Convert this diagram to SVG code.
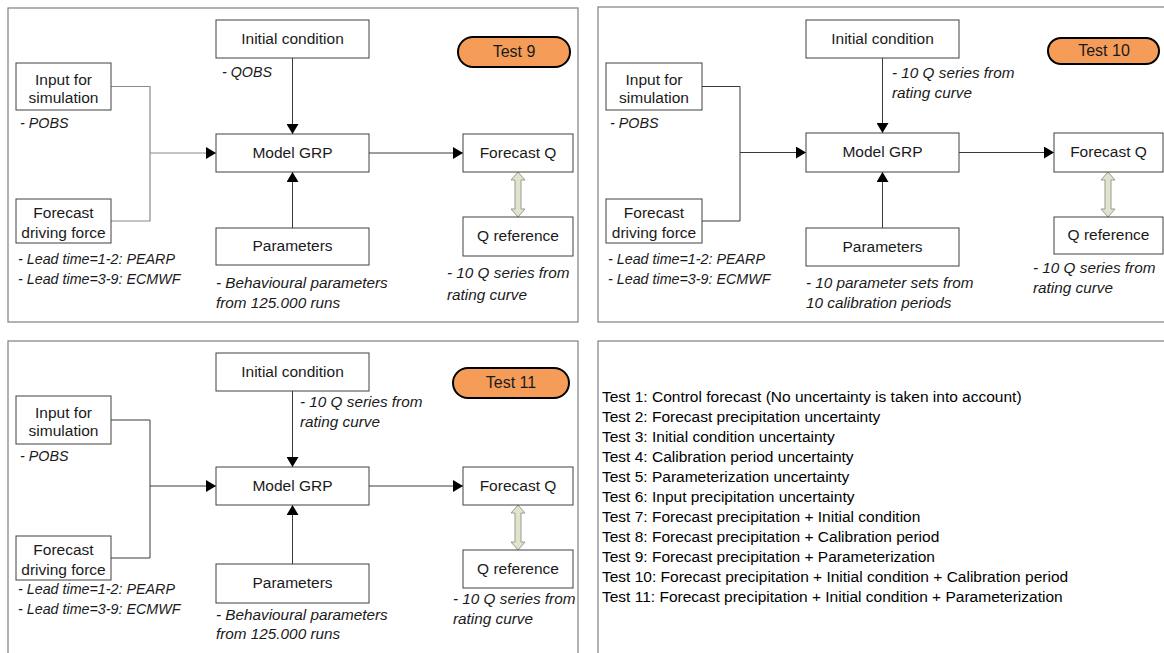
<svg xmlns="http://www.w3.org/2000/svg" width="1164" height="653" viewBox="0 0 1164 653">
<style>
.panel{fill:#fff;stroke:#7f7f7f;stroke-width:1.2}
.box{fill:#fff;stroke:#404040;stroke-width:1}
.t{font-family:"Liberation Sans",Arial,sans-serif;font-size:15.5px;fill:#1a1a1a;text-anchor:middle}
.n{font-family:"Liberation Sans",Arial,sans-serif;font-size:14.3px;font-style:italic;fill:#1a1a1a}
.w{font-size:15.3px}
.pill{fill:#f59d58;stroke:#000;stroke-width:2}
.ln{fill:none;stroke:#3a3a3a;stroke-width:1}
.br{fill:none;stroke:#8a8a8a;stroke-width:1.2}
.dbl{fill:#dfe3cf;stroke:#9a9c8c;stroke-width:1}
.lst{font-family:"Liberation Sans",Arial,sans-serif;font-size:15.5px;fill:#000}
</style>
<defs>
<marker id="ah" viewBox="0 0 10 12" refX="10" refY="6" markerWidth="10" markerHeight="12" markerUnits="userSpaceOnUse" orient="auto">
<path d="M0,0 L10,6 L0,12 Z" fill="#000"/>
</marker>
<path id="dblarrow" d="M0,0 L7,8 L3,8 L3,37 L7,37 L0,45 L-7,37 L-3,37 L-3,8 L-7,8 Z"/>
</defs>
<rect width="1164" height="653" fill="#fff"/>
<rect class="panel" x="8" y="8" width="570" height="314"/>
<rect class="panel" x="598" y="7" width="580" height="315"/>
<rect class="panel" x="8" y="341" width="570" height="320"/>
<rect class="panel" x="598" y="341" width="580" height="320"/>

<g id="connectors">
<path class="br" d="M111,86.5 H150 V221 H111"/>
<path class="br" d="M150,153 H216" marker-end="url(#ah)"/>
<path class="ln" d="M292.5,58 V134" marker-end="url(#ah)"/>
<path class="ln" d="M292.5,228 V172" marker-end="url(#ah)"/>
<path class="ln" d="M369,153 H463" marker-end="url(#ah)"/>
<use href="#dblarrow" class="dbl" x="518" y="172"/>

<path class="ln" d="M702,86.5 H740 V221 H702"/>
<path class="ln" d="M740,152.5 H806" marker-end="url(#ah)"/>
<path class="ln" d="M882.5,58 V133" marker-end="url(#ah)"/>
<path class="ln" d="M882.5,228 V172" marker-end="url(#ah)"/>
<path class="ln" d="M959,152.5 H1054" marker-end="url(#ah)"/>
<use href="#dblarrow" class="dbl" x="1108" y="172"/>

<path class="ln" d="M111,420 H150 V558 H111"/>
<path class="ln" d="M150,486 H216" marker-end="url(#ah)"/>
<path class="ln" d="M292.5,391 V467" marker-end="url(#ah)"/>
<path class="ln" d="M292.5,564 V505" marker-end="url(#ah)"/>
<path class="ln" d="M369,486 H463" marker-end="url(#ah)"/>
<use href="#dblarrow" class="dbl" x="518" y="505"/>
</g>

<!-- Panel Test 9 -->
<g id="p1-input"><rect class="box" x="16" y="63" width="95" height="47"/><text class="t" x="63.5" y="85">Input for</text><text class="t" x="63.5" y="103">simulation</text><text class="n" x="20" y="128">- POBS</text></g>
<g id="p1-forecast-driving"><rect class="box" x="16" y="199" width="95" height="44"/><text class="t" x="63.5" y="218">Forecast</text><text class="t" x="63.5" y="238">driving force</text><text class="n" x="18" y="264">- Lead time=1-2: PEARP</text><text class="n" x="18" y="284">- Lead time=3-9: ECMWF</text></g>
<g id="p1-initial"><rect class="box" x="216" y="20" width="153" height="38"/><text class="t" x="292.5" y="44">Initial condition</text><text class="n" x="222" y="77">- QOBS</text></g>
<g id="p1-model"><rect class="box" x="216" y="134" width="153" height="38"/><text class="t" x="292.5" y="158">Model GRP</text></g>
<g id="p1-params"><rect class="box" x="216" y="228" width="153" height="37"/><text class="t" x="292.5" y="251">Parameters</text><text class="n w" x="216" y="288">- Behavioural parameters</text><text class="n w" x="216" y="308">from 125.000 runs</text></g>
<g id="p1-forecastq"><rect class="box" x="463" y="134" width="110" height="38"/><text class="t" x="518" y="158">Forecast Q</text></g>
<g id="p1-qref"><rect class="box" x="463" y="217" width="110" height="39"/><text class="t" x="518" y="241">Q reference</text><text class="n w" x="447" y="278">- 10 Q series from</text><text class="n w" x="447" y="300">rating curve</text></g>
<g id="p1-label"><rect class="pill" x="458" y="37" width="112" height="30" rx="15"/><text class="t" x="514" y="57" style="font-size:16px">Test 9</text></g>

<!-- Panel Test 10 -->
<g id="p2-input"><rect class="box" x="606" y="63" width="96" height="47"/><text class="t" x="654" y="85">Input for</text><text class="t" x="654" y="103">simulation</text><text class="n" x="610" y="128">- POBS</text></g>
<g id="p2-forecast-driving"><rect class="box" x="606" y="199" width="96" height="44"/><text class="t" x="654" y="218">Forecast</text><text class="t" x="654" y="238">driving force</text><text class="n" x="608" y="264">- Lead time=1-2: PEARP</text><text class="n" x="608" y="284">- Lead time=3-9: ECMWF</text></g>
<g id="p2-initial"><rect class="box" x="806" y="20" width="153" height="38"/><text class="t" x="882.5" y="44">Initial condition</text><text class="n w" x="892" y="78">- 10 Q series from</text><text class="n w" x="892" y="98">rating curve</text></g>
<g id="p2-model"><rect class="box" x="806" y="133" width="153" height="39"/><text class="t" x="882.5" y="157">Model GRP</text></g>
<g id="p2-params"><rect class="box" x="806" y="228" width="153" height="38"/><text class="t" x="882.5" y="252">Parameters</text><text class="n w" x="806" y="288">- 10 parameter sets from</text><text class="n w" x="806" y="308">10 calibration periods</text></g>
<g id="p2-forecastq"><rect class="box" x="1054" y="133" width="109" height="39"/><text class="t" x="1108.5" y="157">Forecast Q</text></g>
<g id="p2-qref"><rect class="box" x="1054" y="217" width="109" height="37"/><text class="t" x="1108.5" y="240">Q reference</text><text class="n w" x="1033" y="273">- 10 Q series from</text><text class="n w" x="1033" y="293">rating curve</text></g>
<g id="p2-label"><rect class="pill" x="1048" y="38" width="111" height="26" rx="13"/><text class="t" x="1104" y="56" style="font-size:16px">Test 10</text></g>

<!-- Panel Test 11 -->
<g id="p3-input"><rect class="box" x="16" y="396" width="95" height="48"/><text class="t" x="63.5" y="418">Input for</text><text class="t" x="63.5" y="436">simulation</text><text class="n" x="20" y="461">- POBS</text></g>
<g id="p3-forecast-driving"><rect class="box" x="16" y="536" width="95" height="44"/><text class="t" x="63.5" y="555">Forecast</text><text class="t" x="63.5" y="575">driving force</text><text class="n" x="18" y="594">- Lead time=1-2: PEARP</text><text class="n" x="18" y="614">- Lead time=3-9: ECMWF</text></g>
<g id="p3-initial"><rect class="box" x="216" y="353" width="153" height="38"/><text class="t" x="292.5" y="377">Initial condition</text><text class="n w" x="300" y="407">- 10 Q series from</text><text class="n w" x="300" y="427">rating curve</text></g>
<g id="p3-model"><rect class="box" x="216" y="467" width="153" height="38"/><text class="t" x="292.5" y="491">Model GRP</text></g>
<g id="p3-params"><rect class="box" x="216" y="564" width="153" height="39"/><text class="t" x="292.5" y="588">Parameters</text><text class="n w" x="216" y="620">- Behavioural parameters</text><text class="n w" x="216" y="639">from 125.000 runs</text></g>
<g id="p3-forecastq"><rect class="box" x="463" y="467" width="110" height="38"/><text class="t" x="518" y="491">Forecast Q</text></g>
<g id="p3-qref"><rect class="box" x="463" y="550" width="110" height="38"/><text class="t" x="518" y="574">Q reference</text><text class="n w" x="453" y="604">- 10 Q series from</text><text class="n w" x="453" y="624">rating curve</text></g>
<g id="p3-label"><rect class="pill" x="453" y="368" width="116" height="30" rx="15"/><text class="t" x="511" y="388" style="font-size:16px">Test 11</text></g>

<!-- Legend panel -->
<g id="legend">
<text class="lst" x="602" y="402">Test 1: Control forecast (No uncertainty is taken into account)</text>
<text class="lst" x="602" y="422">Test 2: Forecast precipitation uncertainty</text>
<text class="lst" x="602" y="442">Test 3: Initial condition uncertainty</text>
<text class="lst" x="602" y="462">Test 4: Calibration period uncertainty</text>
<text class="lst" x="602" y="482">Test 5: Parameterization uncertainty</text>
<text class="lst" x="602" y="502">Test 6: Input precipitation uncertainty</text>
<text class="lst" x="602" y="522">Test 7: Forecast precipitation + Initial condition</text>
<text class="lst" x="602" y="542">Test 8: Forecast precipitation + Calibration period</text>
<text class="lst" x="602" y="562">Test 9: Forecast precipitation + Parameterization</text>
<text class="lst" x="602" y="582">Test 10: Forecast precipitation + Initial condition + Calibration period</text>
<text class="lst" x="602" y="602">Test 11: Forecast precipitation + Initial condition + Parameterization</text>
</g>
</svg>
